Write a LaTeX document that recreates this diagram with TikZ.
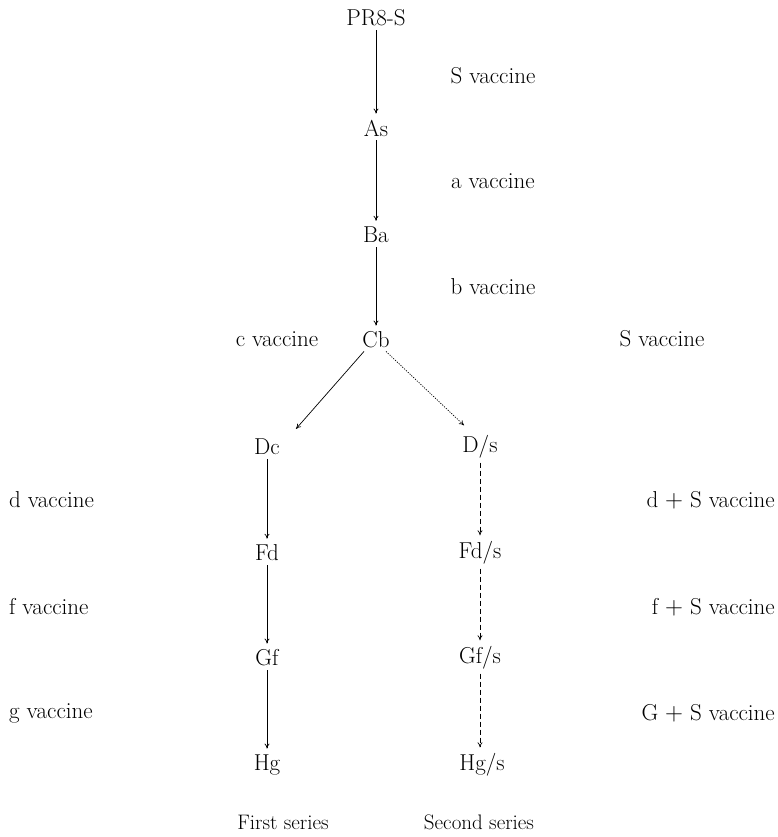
\documentclass[tikz,border=0pt]{standalone}
\usetikzlibrary{arrows.meta}
\begin{document}
\begin{tikzpicture}[x=1pt,y=-1pt,
  every node/.style={inner sep=1pt,font=\fontsize{23}{27}\selectfont},
  strain/.style={},
  vlabel/.style={},
  serieslabel/.style={font=\fontsize{21}{25}\selectfont},
  arr/.style={-{To[length=5pt,width=5pt]},line width=0.7pt},
  dotarr/.style={arr,dash pattern=on 1.2pt off 1.3pt},
  dasharr/.style={arr,dash pattern=on 5pt off 3pt}]
\useasboundingbox (0,0) rectangle (777,837);
% strains
\node[strain] (pr8) at (376,18) {PR8-S};
\node[strain] (as) at (376,128) {As};
\node[strain] (ba) at (376,235) {Ba};
\node[strain] (cb) at (376,340) {Cb};
\node[strain] (dc) at (267,447) {Dc};
\node[strain] (ds) at (480,447) {D/s};
\node[strain] (fd) at (267,553) {Fd};
\node[strain] (fds) at (480,553) {Fd/s};
\node[strain] (gf) at (267,658) {Gf};
\node[strain] (gfs) at (480,658) {Gf/s};
\node[strain] (hg) at (267,765) {Hg};
\node[strain] (hgs) at (482,765) {Hg/s};
% series labels
\node[serieslabel] (first) at (283,822) {First series};
\node[serieslabel] (second) at (479,822) {Second series};
% vaccine labels
\node[vlabel] (sv) at (493,76) {S vaccine};
\node[vlabel] (av) at (493,181) {a vaccine};
\node[vlabel] (bv) at (493,287) {b vaccine};
\node[vlabel] (cv) at (277,339) {c vaccine};
\node[vlabel] (sv2) at (662,339) {S vaccine};
\node[vlabel,anchor=west] (dv) at (8,500) {d vaccine};
\node[vlabel,anchor=east] (dsv) at (776,500) {d $+$ S vaccine};
\node[vlabel,anchor=west] (fv) at (8,607) {f vaccine};
\node[vlabel,anchor=east] (fsv) at (776,607) {f $+$ S vaccine};
\node[vlabel,anchor=west] (gv) at (8,713) {g vaccine};
\node[vlabel,anchor=east] (gsv) at (776,713) {G $+$ S vaccine};
% connectors
\draw[arr] ([yshift=-3pt]pr8.south) -- ([yshift=5pt]as.north);
\draw[arr] ([yshift=-3pt]as.south) -- ([yshift=5pt]ba.north);
\draw[arr] ([yshift=-3pt]ba.south) -- ([yshift=5pt]cb.north);
\draw[arr] ([xshift=-12pt,yshift=-2pt]cb.south) -- ([xshift=29pt,yshift=9pt]dc.north);
\draw[dotarr] ([xshift=10pt,yshift=-2pt]cb.south) -- ([xshift=-16pt,yshift=9pt]ds.north);
\draw[arr] ([yshift=-3pt]dc.south) -- ([yshift=5pt]fd.north);
\draw[arr] ([yshift=-3pt]fd.south) -- ([yshift=5pt]gf.north);
\draw[arr] ([yshift=-3pt]gf.south) -- ([yshift=5pt]hg.north);
\draw[dasharr] ([yshift=-3pt]ds.south) -- ([yshift=5pt]ds.south |- fds.north);
\draw[dasharr] ([yshift=-3pt]fds.south) -- ([yshift=5pt]fds.south |- gfs.north);
\draw[dasharr] ([yshift=-3pt]gfs.south) -- ([yshift=5pt]gfs.south |- hgs.north);
\end{tikzpicture}
\end{document}
